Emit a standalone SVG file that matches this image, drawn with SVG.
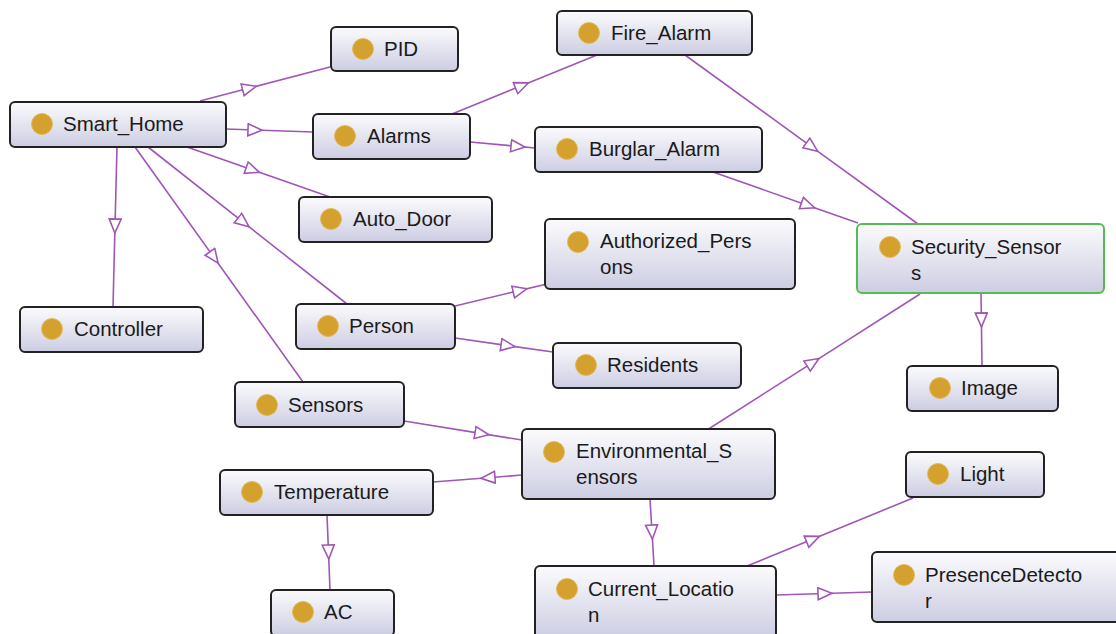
<svg xmlns="http://www.w3.org/2000/svg" width="1116" height="634" viewBox="0 0 1116 634">
<defs>
<linearGradient id="g" x1="0" y1="0" x2="0" y2="1">
<stop offset="0" stop-color="#fbfbfd"/>
<stop offset="1" stop-color="#cdcde3"/>
</linearGradient>
<marker id="tri" markerWidth="20" markerHeight="16" refX="8" refY="7" orient="auto" markerUnits="userSpaceOnUse">
<path d="M1,1 L15,7 L1,13 Z" fill="#ffffff" stroke="#a056b6" stroke-width="1.6" stroke-linejoin="miter"/>
</marker>
</defs>
<style>
.box{fill:url(#g);stroke:#222;stroke-width:2}
.sel{fill:url(#g);stroke:#55bb55;stroke-width:2}
.dot{fill:#d4a02e;stroke:#e2bb5a;stroke-width:1}
.t{font-family:"Liberation Sans",Arial,sans-serif;font-size:20.5px;fill:#1a1a1a}
.e{fill:none;stroke:#a056b6;stroke-width:1.6;marker-mid:url(#tri)}
</style>
<rect width="1116" height="634" fill="#ffffff"/>
<g id="connectors">
<polyline class="e" points="200,101 249.4,88.1 330,67"/>
<polyline class="e" points="226,129 255,130 313,132"/>
<polyline class="e" points="187,147 252.8,170 330,197"/>
<polyline class="e" points="117,147 115,226 113,307"/>
<polyline class="e" points="135,147 214,257.5 303,382"/>
<polyline class="e" points="148,147 243.5,222.4 347,304"/>
<polyline class="e" points="452,114 522,85.5 597,55"/>
<polyline class="e" points="470,142 518,146.4 535,148"/>
<polyline class="e" points="685,55 812,147.1 918,224"/>
<polyline class="e" points="713,172 808,205.4 858,223"/>
<polyline class="e" points="981,293 981.4,320 982,366"/>
<polyline class="e" points="707,430 813,362.3 920,294"/>
<polyline class="e" points="455,306 520,290.4 547,284"/>
<polyline class="e" points="455,338 508,345.6 553,352"/>
<polyline class="e" points="404,421 482,433.6 522,440"/>
<polyline class="e" points="522,475 488,477.7 433,482"/>
<polyline class="e" points="327,515 328.5,552 330,590"/>
<polyline class="e" points="650,499 652,532 654,566"/>
<polyline class="e" points="747,566 813,539 913,498"/>
<polyline class="e" points="776,595 825,593.5 872,592"/>
</g>
<g id="PID"><rect class="box" x="331" y="27" width="127" height="44" rx="5"/><circle class="dot" cx="363" cy="49" r="10.5"/><text class="t" x="384" y="56">PID</text></g>
<g id="Fire_Alarm"><rect class="box" x="557" y="11" width="195" height="44" rx="5"/><circle class="dot" cx="589" cy="33" r="10.5"/><text class="t" x="611" y="40">Fire_Alarm</text></g>
<g id="Smart_Home"><rect class="box" x="10" y="102" width="216" height="45" rx="5"/><circle class="dot" cx="42" cy="124" r="10.5"/><text class="t" x="63" y="131">Smart_Home</text></g>
<g id="Alarms"><rect class="box" x="313" y="114" width="157" height="45" rx="5"/><circle class="dot" cx="345" cy="136" r="10.5"/><text class="t" x="367" y="143">Alarms</text></g>
<g id="Burglar_Alarm"><rect class="box" x="535" y="127" width="227" height="45" rx="5"/><circle class="dot" cx="567" cy="149" r="10.5"/><text class="t" x="589" y="156">Burglar_Alarm</text></g>
<g id="Auto_Door"><rect class="box" x="299" y="197" width="193" height="45" rx="5"/><circle class="dot" cx="331" cy="219" r="10.5"/><text class="t" x="353" y="226">Auto_Door</text></g>
<g id="Authorized_Persons"><rect class="box" x="545" y="219" width="250" height="70" rx="5"/><circle class="dot" cx="578" cy="242" r="10.5"/><text class="t" x="600" y="248">Authorized_Pers</text><text class="t" x="600" y="274">ons</text></g>
<g id="Security_Sensors"><rect class="sel" x="857" y="224" width="247" height="69" rx="5"/><circle class="dot" cx="890" cy="247" r="10.5"/><text class="t" x="911" y="254">Security_Sensor</text><text class="t" x="911" y="280">s</text></g>
<g id="Controller"><rect class="box" x="20" y="307" width="183" height="45" rx="5"/><circle class="dot" cx="52" cy="329" r="10.5"/><text class="t" x="74" y="336">Controller</text></g>
<g id="Person"><rect class="box" x="296" y="304" width="159" height="45" rx="5"/><circle class="dot" cx="328" cy="326" r="10.5"/><text class="t" x="349" y="333">Person</text></g>
<g id="Residents"><rect class="box" x="553" y="343" width="188" height="45" rx="5"/><circle class="dot" cx="586" cy="365" r="10.5"/><text class="t" x="607" y="372">Residents</text></g>
<g id="Image"><rect class="box" x="907" y="366" width="151" height="45" rx="5"/><circle class="dot" cx="940" cy="388" r="10.5"/><text class="t" x="961" y="395">Image</text></g>
<g id="Sensors"><rect class="box" x="235" y="382" width="169" height="45" rx="5"/><circle class="dot" cx="267" cy="405" r="10.5"/><text class="t" x="288" y="412">Sensors</text></g>
<g id="Environmental_Sensors"><rect class="box" x="522" y="429" width="253" height="70" rx="5"/><circle class="dot" cx="554" cy="452" r="10.5"/><text class="t" x="576" y="458">Environmental_S</text><text class="t" x="576" y="484">ensors</text></g>
<g id="Light"><rect class="box" x="906" y="452" width="138" height="45" rx="5"/><circle class="dot" cx="938" cy="474" r="10.5"/><text class="t" x="960" y="481">Light</text></g>
<g id="Temperature"><rect class="box" x="220" y="470" width="213" height="45" rx="5"/><circle class="dot" cx="252" cy="492" r="10.5"/><text class="t" x="274" y="499">Temperature</text></g>
<g id="AC"><rect class="box" x="271" y="590" width="123" height="46" rx="5"/><circle class="dot" cx="303" cy="612" r="10.5"/><text class="t" x="324" y="619">AC</text></g>
<g id="Current_Location"><rect class="box" x="535" y="566" width="241" height="72" rx="5"/><circle class="dot" cx="567" cy="589" r="10.5"/><text class="t" x="588" y="596">Current_Locatio</text><text class="t" x="588" y="622">n</text></g>
<g id="PresenceDetector"><rect class="box" x="872" y="552" width="250" height="70" rx="5"/><circle class="dot" cx="904" cy="575" r="10.5"/><text class="t" x="925" y="582">PresenceDetecto</text><text class="t" x="925" y="608">r</text></g>
</svg>
